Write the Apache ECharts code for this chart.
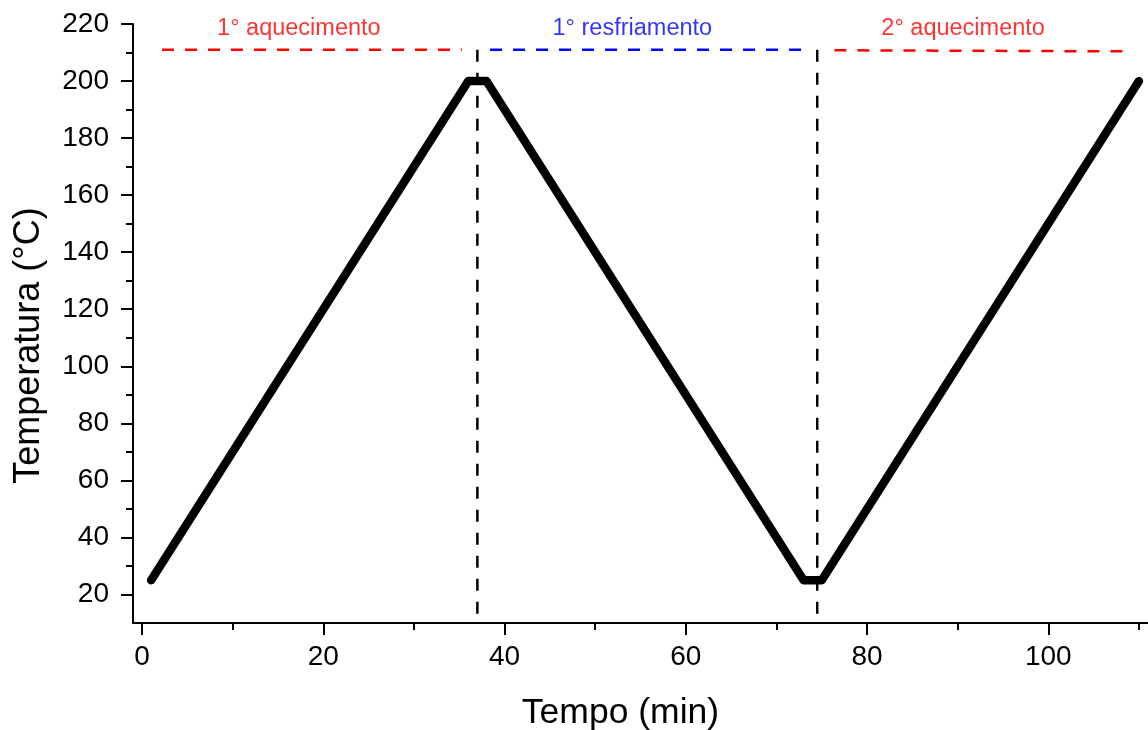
<!DOCTYPE html>
<html>
<head>
<meta charset="utf-8">
<script src="https://cdn.jsdelivr.net/npm/echarts@6/dist/echarts.min.js"></script>
<style>
html,body{margin:0;padding:0;background:#fff;}
#chart{width:1148px;height:730px;}
</style>
</head>
<body>
<div id="chart"></div>
<script>
// ---- data ----
const timeMin = [1, 36, 38, 73, 75, 110];
const tempC   = [25, 200, 200, 25, 25, 200];

const xMajorTicks = [0, 20, 40, 60, 80, 100];
const xMinorTicks = [10, 30, 50, 70, 90, 110];
const yMajorTicks = [20, 40, 60, 80, 100, 120, 140, 160, 180, 200, 220];
const yMinorTicks = [30, 50, 70, 90, 110, 130, 150, 170, 190, 210];

const dividerTimes = [37, 74.5];
const dividerTop = 211;
const dividerBottom = 10;

const phaseNames  = ['1° aquecimento', '1° resfriamento', '2° aquecimento'];
const phaseColors = ['#ff0000', '#0000ff', '#ff0000'];
const phaseStart  = [2.2, 38.4, 76.4];
const phaseEnd    = [35.3, 73.0, 108.6];
const phaseLevelStart = [211, 211, 210.8];
const phaseLevelEnd   = [211, 211, 210.4];
const phaseLabelX = [17.3, 54.1, 90.6];
const phaseLabelY = 218.5;

// ---- chart ----
const FONT = 'Liberation Sans, Arial, Helvetica, sans-serif';
const chart = echarts.init(document.getElementById('chart'), null, {renderer: 'canvas'});

const series = [];
series.push({
  type: 'line',
  xAxisIndex: 0, yAxisIndex: 0,
  data: timeMin.map((t, i) => [t, tempC[i]]),
  symbol: 'none',
  lineStyle: {color: '#000', width: 8.5, cap: 'round', join: 'round'},
  clip: false,
  z: 5
});
dividerTimes.forEach(t => {
  series.push({
    type: 'line',
    data: [[t, dividerTop], [t, dividerBottom]],
    symbol: 'none',
    lineStyle: {color: '#000', width: 2.5, type: [12, 11]},
    z: 3
  });
});
phaseNames.forEach((n, i) => {
  series.push({
    type: 'line',
    data: [[phaseStart[i], phaseLevelStart[i]], [phaseEnd[i], phaseLevelEnd[i]]],
    symbol: 'none',
    lineStyle: {color: phaseColors[i], width: 2.5, type: [12, 11]},
    z: 3
  });
});
series.push({
  type: 'scatter',
  data: phaseNames.map((n, i) => ({
    value: [phaseLabelX[i], phaseLabelY],
    label: {color: phaseColors[i]}
  })),
  symbolSize: 0,
  label: {
    show: true,
    position: 'inside',
    formatter: p => phaseNames[p.dataIndex],
    fontFamily: FONT,
    fontSize: 23.5
  },
  silent: true,
  z: 6
});

const axisLineStyle = {color: '#000', width: 2};

chart.setOption({
  animation: false,
  backgroundColor: '#fff',
  grid: {left: 133, right: 0, top: 24, bottom: 107, containLabel: false, outerBoundsMode: 'none'},
  xAxis: [{
    type: 'value', min: -1, max: 111,
    position: 'bottom',
    name: 'Tempo (min)', nameLocation: 'middle', nameGap: 72,
    nameTextStyle: {fontFamily: FONT, fontSize: 35.5, color: '#000', padding: [0, 40, 0, 0]},
    axisLine: {show: true, onZero: false, lineStyle: axisLineStyle},
    axisTick: {show: true, inside: false, length: 12, lineStyle: axisLineStyle, customValues: xMajorTicks},
    axisLabel: {show: true, margin: 20, fontFamily: FONT, fontSize: 28, color: '#000', customValues: xMajorTicks},
    splitLine: {show: false}
  }, {
    type: 'value', min: -1, max: 111,
    position: 'bottom',
    axisLine: {show: false, onZero: false},
    axisTick: {show: true, inside: false, length: 7, lineStyle: axisLineStyle, customValues: xMinorTicks},
    axisLabel: {show: false},
    splitLine: {show: false}
  }],
  yAxis: [{
    type: 'value', min: 10, max: 220,
    position: 'left',
    name: 'Temperatura (°C)', nameLocation: 'middle', nameGap: 86, nameRotate: 90,
    nameTextStyle: {fontFamily: FONT, fontSize: 36, color: '#000', padding: [0, 44, 0, 0]},
    axisLine: {show: true, onZero: false, lineStyle: axisLineStyle},
    axisTick: {show: true, inside: false, length: 12, lineStyle: axisLineStyle, customValues: yMajorTicks},
    axisLabel: {show: true, margin: 24, fontFamily: FONT, fontSize: 28, color: '#000', customValues: yMajorTicks},
    splitLine: {show: false}
  }, {
    type: 'value', min: 10, max: 220,
    position: 'left',
    axisLine: {show: false, onZero: false},
    axisTick: {show: true, inside: false, length: 7, lineStyle: axisLineStyle, customValues: yMinorTicks},
    axisLabel: {show: false},
    splitLine: {show: false}
  }],
  series: series
});
</script>
</body>
</html>
